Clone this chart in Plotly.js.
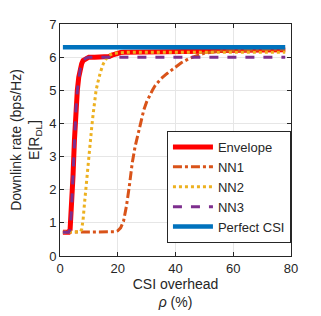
<!DOCTYPE html>
<html><head><meta charset="utf-8">
<script src="https://cdn.plot.ly/plotly-3.0.1.min.js"></script>
<style>html,body{margin:0;padding:0;background:#fff}#chart{width:321px;height:316px}</style>
</head><body><div id="chart"></div>
<script>
const seriesNames = ["Envelope", "NN1", "NN2", "NN3", "Perfect CSI"];
const envX = [1,2,3,3.5,4,4.5,5,5.5,6,6.5,7,7.5,8,9,10,12,14,16,17,18,19,20,21,22,25,30,40,45,50,55,60,70,78];
const envY = [0.72,0.72,0.72,0.8,1.4,2.4,3.5,4.4,5.0,5.4,5.65,5.8,5.9,5.97,6.0,6.0,6.0,6.0,6.02,6.06,6.1,6.13,6.14,6.15,6.15,6.15,6.15,6.16,6.18,6.2,6.21,6.22,6.22];
const nn1X = [1,5,10,15,18,19,20,21,22,23,24,25,26,27,28,29,30,31,32,33,35,37,40,42,45,48,50,55,60,70,78];
const nn1Y = [0.72,0.72,0.72,0.72,0.72,0.73,0.76,0.85,1.05,1.5,2.1,2.8,3.3,3.7,4.1,4.4,4.65,4.85,5.0,5.15,5.35,5.5,5.7,5.83,5.97,6.07,6.12,6.18,6.2,6.22,6.22];
const nn2X = [1,3,5,7,7.5,8,8.5,9,9.5,10,10.5,11,11.5,12,12.5,13,14,15,16,17,18,19,20,22,25,30,40,50,60,70,78];
const nn2Y = [0.72,0.72,0.72,0.73,0.8,1.1,1.6,2.1,2.6,3.1,3.5,3.9,4.3,4.7,5.0,5.2,5.55,5.8,5.95,6.05,6.1,6.12,6.13,6.14,6.15,6.15,6.15,6.15,6.15,6.15,6.15];
const nn3X = [1,2,3,3.5,4,4.5,5,5.5,6,6.5,7,7.5,8,9,10,20,30,40,50,60,70,78];
const nn3Y = [0.72,0.72,0.72,0.8,1.4,2.4,3.5,4.4,5.0,5.4,5.65,5.8,5.9,5.97,6.0,6.0,6.0,6.0,6.0,6.0,6.0,6.0];
const perfX = [1,78];
const perfY = [6.3,6.3];
const xTicks = [0,20,40,60,80];
const yTicks = [0,1,2,3,4,5,6,7];

const traces = [
  {x: envX, y: envY, name: seriesNames[0], mode: "lines", line: {color: "#ff0000", width: 5}},
  {x: nn1X, y: nn1Y, name: seriesNames[1], mode: "lines", line: {color: "#D95319", width: 3, dash: "dashdot"}},
  {x: nn2X, y: nn2Y, name: seriesNames[2], mode: "lines", line: {color: "#EDB120", width: 3, dash: "dot"}},
  {x: nn3X, y: nn3Y, name: seriesNames[3], mode: "lines", line: {color: "#7E2F8E", width: 3, dash: "dash"}},
  {x: perfX, y: perfY, name: seriesNames[4], mode: "lines", line: {color: "#0072BD", width: 4.5}}
];
const axisCommon = {
  showline: true, mirror: "ticks", linecolor: "#262626", linewidth: 1,
  ticks: "inside", ticklen: 4, tickcolor: "#262626",
  showgrid: true, gridcolor: "#e6e6e6", zeroline: false,
  tickfont: {family: "Liberation Sans, Arial, sans-serif", size: 13, color: "#262626"}
};
const layout = {
  width: 321, height: 316,
  margin: {l: 60, r: 30, t: 24, b: 60},
  paper_bgcolor: "#fff", plot_bgcolor: "#fff",
  showlegend: true,
  font: {family: "Liberation Sans, Arial, sans-serif", size: 13, color: "#262626"},
  xaxis: Object.assign({}, axisCommon, {
    range: [0, 80], tickvals: xTicks, ticktext: xTicks.map(String),
    title: {text: "CSI overhead<br><i>ρ</i> (%)", font: {size: 14, color: "#262626"}, standoff: 4}
  }),
  yaxis: Object.assign({}, axisCommon, {
    range: [0, 7], tickvals: yTicks, ticktext: yTicks.map(String),
    title: {text: "Downlink rate (bps/Hz)<br>E[R<sub>DL</sub>]", font: {size: 14, color: "#262626"}, standoff: 6}
  }),
  legend: {
    x: 0.463, y: 0.056, xanchor: "left", yanchor: "bottom",
    bgcolor: "#fff", bordercolor: "#262626", borderwidth: 1,
    font: {size: 13, color: "#262626"}, tracegroupgap: 0, itemwidth: 40
  }
};
Plotly.newPlot("chart", traces, layout, {staticPlot: true, displayModeBar: false});
</script></body></html>
